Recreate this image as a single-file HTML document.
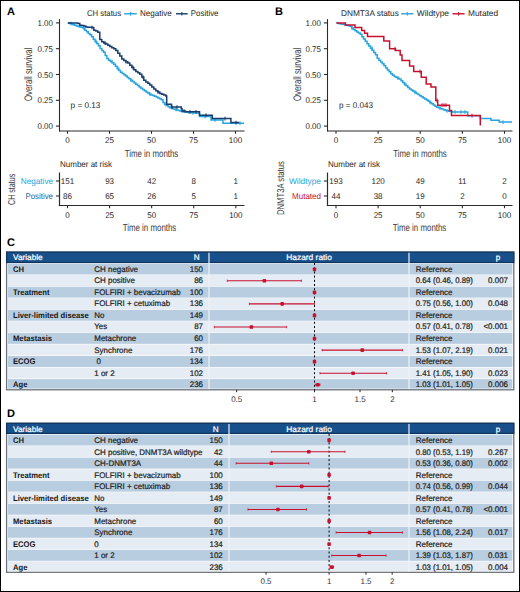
<!DOCTYPE html>
<html><head><meta charset="utf-8"><style>
html,body{margin:0;padding:0;background:#fff;}
body{width:520px;height:592px;overflow:hidden;font-family:"Liberation Sans",sans-serif;}
.wrap{position:relative;width:520px;height:592px;}
svg{position:absolute;left:0;top:0;}
.bd{position:absolute;left:0;top:0;width:520px;height:592px;box-sizing:border-box;border:1.2px solid #000;}
</style></head><body><div class="wrap">
<svg width="520" height="592" viewBox="0 0 520 592" font-family="Liberation Sans, sans-serif" text-rendering="geometricPrecision"><text x="6.90" y="14.80" font-size="11" text-anchor="start" fill="#000" font-weight="bold">A</text>
<text x="86.90" y="15.90" font-size="8.3" text-anchor="start" fill="#262626" stroke="#262626" stroke-width="0.0" textLength="34.2" lengthAdjust="spacingAndGlyphs">CH status</text>
<line x1="124.20" y1="13.80" x2="136.80" y2="13.80" stroke="#27a4de" stroke-width="1.4"/>
<line x1="130.50" y1="12.00" x2="130.50" y2="15.60" stroke="#27a4de" stroke-width="1.0"/>
<text x="140.00" y="15.90" font-size="8.3" text-anchor="start" fill="#262626" stroke="#262626" stroke-width="0.0" textLength="31.7" lengthAdjust="spacingAndGlyphs">Negative</text>
<line x1="176.00" y1="13.80" x2="187.70" y2="13.80" stroke="#173d70" stroke-width="1.4"/>
<line x1="181.85" y1="12.00" x2="181.85" y2="15.60" stroke="#173d70" stroke-width="1.0"/>
<text x="190.80" y="15.90" font-size="8.3" text-anchor="start" fill="#262626" stroke="#262626" stroke-width="0.0" textLength="27.7" lengthAdjust="spacingAndGlyphs">Positive</text>
<line x1="59.50" y1="19.10" x2="59.50" y2="131.50" stroke="#2b2b2b" stroke-width="1.1"/>
<line x1="58.95" y1="131.00" x2="244.50" y2="131.00" stroke="#2b2b2b" stroke-width="1.1"/>
<line x1="55.90" y1="22.90" x2="59.50" y2="22.90" stroke="#2b2b2b" stroke-width="1.1"/>
<text x="52.90" y="25.90" font-size="8.3" text-anchor="end" fill="#262626" stroke="#262626" stroke-width="0.0" textLength="15.4" lengthAdjust="spacingAndGlyphs">1.00</text>
<line x1="55.90" y1="48.70" x2="59.50" y2="48.70" stroke="#2b2b2b" stroke-width="1.1"/>
<text x="52.90" y="51.70" font-size="8.3" text-anchor="end" fill="#262626" stroke="#262626" stroke-width="0.0" textLength="15.4" lengthAdjust="spacingAndGlyphs">0.75</text>
<line x1="55.90" y1="74.50" x2="59.50" y2="74.50" stroke="#2b2b2b" stroke-width="1.1"/>
<text x="52.90" y="77.50" font-size="8.3" text-anchor="end" fill="#262626" stroke="#262626" stroke-width="0.0" textLength="15.4" lengthAdjust="spacingAndGlyphs">0.50</text>
<line x1="55.90" y1="100.30" x2="59.50" y2="100.30" stroke="#2b2b2b" stroke-width="1.1"/>
<text x="52.90" y="103.30" font-size="8.3" text-anchor="end" fill="#262626" stroke="#262626" stroke-width="0.0" textLength="15.4" lengthAdjust="spacingAndGlyphs">0.25</text>
<line x1="55.90" y1="126.10" x2="59.50" y2="126.10" stroke="#2b2b2b" stroke-width="1.1"/>
<text x="52.90" y="129.10" font-size="8.3" text-anchor="end" fill="#262626" stroke="#262626" stroke-width="0.0" textLength="15.4" lengthAdjust="spacingAndGlyphs">0.00</text>
<line x1="67.50" y1="131.00" x2="67.50" y2="133.80" stroke="#2b2b2b" stroke-width="1.1"/>
<text x="67.50" y="143.10" font-size="8.3" text-anchor="middle" fill="#262626" stroke="#262626" stroke-width="0.0" textLength="4.45" lengthAdjust="spacingAndGlyphs">0</text>
<line x1="109.50" y1="131.00" x2="109.50" y2="133.80" stroke="#2b2b2b" stroke-width="1.1"/>
<text x="109.50" y="143.10" font-size="8.3" text-anchor="middle" fill="#262626" stroke="#262626" stroke-width="0.0" textLength="8.9" lengthAdjust="spacingAndGlyphs">25</text>
<line x1="151.50" y1="131.00" x2="151.50" y2="133.80" stroke="#2b2b2b" stroke-width="1.1"/>
<text x="151.50" y="143.10" font-size="8.3" text-anchor="middle" fill="#262626" stroke="#262626" stroke-width="0.0" textLength="8.9" lengthAdjust="spacingAndGlyphs">50</text>
<line x1="193.50" y1="131.00" x2="193.50" y2="133.80" stroke="#2b2b2b" stroke-width="1.1"/>
<text x="193.50" y="143.10" font-size="8.3" text-anchor="middle" fill="#262626" stroke="#262626" stroke-width="0.0" textLength="8.9" lengthAdjust="spacingAndGlyphs">75</text>
<line x1="235.50" y1="131.00" x2="235.50" y2="133.80" stroke="#2b2b2b" stroke-width="1.1"/>
<text x="235.50" y="143.10" font-size="8.3" text-anchor="middle" fill="#262626" stroke="#262626" stroke-width="0.0" textLength="13.35" lengthAdjust="spacingAndGlyphs">100</text>
<text x="0" y="0" font-size="10.9" fill="#3a3a3a" text-anchor="middle" textLength="53.4" lengthAdjust="spacingAndGlyphs" transform="translate(32.40,74.30) rotate(-90)">Overall survival</text>
<text x="151.50" y="156.80" font-size="10.3" text-anchor="middle" fill="#3a3a3a" textLength="53.6" lengthAdjust="spacingAndGlyphs" stroke="none">Time in months</text>
<text x="70.60" y="108.20" font-size="8.3" text-anchor="start" fill="#262626" stroke="#262626" stroke-width="0.0" textLength="29.8" lengthAdjust="spacingAndGlyphs">p = 0.13</text>
<polyline points="67.80,23.00 69.50,23.00 69.50,23.55 71.20,23.55 71.20,24.11 72.90,24.11 72.90,24.71 74.60,24.71 74.60,25.34 76.30,25.34 76.30,25.98 78.00,25.98 78.00,26.61 79.70,26.61 79.70,26.99 81.40,26.99 81.40,27.26 83.10,27.26 83.10,28.36 84.80,28.36 84.80,30.26 86.50,30.26 86.50,31.83 88.20,31.83 88.20,33.39 89.90,33.39 89.90,34.85 91.60,34.85 91.60,36.71 93.30,36.71 93.30,39.29 95.00,39.29 95.00,41.53 96.70,41.53 96.70,43.59 98.40,43.59 98.40,45.86 100.10,45.86 100.10,48.44 101.80,48.44 101.80,50.48 103.50,50.48 103.50,52.30 105.20,52.30 105.20,55.39 106.90,55.39 106.90,58.47 108.60,58.47 108.60,60.19 110.30,60.19 110.30,61.47 112.00,61.47 112.00,62.76 113.70,62.76 113.70,64.15 115.40,64.15 115.40,66.30 117.10,66.30 117.10,68.44 118.80,68.44 118.80,70.59 120.50,70.59 120.50,72.27 122.20,72.27 122.20,73.53 123.90,73.53 123.90,74.79 125.60,74.79 125.60,76.05 127.30,76.05 127.30,77.41 129.00,77.41 129.00,78.78 130.70,78.78 130.70,80.15 132.40,80.15 132.40,81.51 134.10,81.51 134.10,82.88 135.80,82.88 135.80,84.22 137.50,84.22 137.50,85.57 139.20,85.57 139.20,86.92 140.90,86.92 140.90,88.26 142.60,88.26 142.60,89.49 144.30,89.49 144.30,90.70 146.00,90.70 146.00,91.91 147.70,91.91 147.70,93.12 149.40,93.12 149.40,94.16 151.10,94.16 151.10,94.89 152.80,94.89 152.80,95.61 154.50,95.61 154.50,96.34 156.20,96.34 156.20,97.07 157.90,97.07 157.90,97.91 159.60,97.91 159.60,98.78 161.30,98.78 161.30,99.76 163.00,99.76 163.00,102.51 164.70,102.51 164.70,104.42 166.40,104.42 166.40,105.59 168.10,105.59 168.10,106.77 169.80,106.77 169.80,107.86 171.50,107.86 171.50,108.42 173.20,108.42 173.20,108.97 174.90,108.97 174.90,109.52 176.60,109.52 176.60,110.07 178.30,110.07 178.30,110.51 180.00,110.51 180.00,110.88 181.70,110.88 181.70,111.25 183.40,111.25 183.40,111.61 185.10,111.61 185.10,111.98 186.80,111.98 186.80,112.34 188.50,112.34 188.50,112.63 190.20,112.63 190.20,112.71 191.90,112.71 191.90,112.80 193.60,112.80 193.60,112.89 195.30,112.89 195.30,112.98 197.00,112.98 197.00,113.07 198.70,113.07 198.70,113.16 199.50,113.16 199.50,113.20 199.50,116.50 211.00,116.50 211.00,119.90 223.00,119.90 223.00,123.30 244.00,123.30" fill="none" stroke="#27a4de" stroke-width="1.5" stroke-linejoin="miter"/>
<line x1="71.00" y1="21.65" x2="71.00" y2="25.45" stroke="#27a4de" stroke-width="1.0"/>
<line x1="84.00" y1="26.46" x2="84.00" y2="30.26" stroke="#27a4de" stroke-width="1.0"/>
<line x1="96.00" y1="39.63" x2="96.00" y2="43.43" stroke="#27a4de" stroke-width="1.0"/>
<line x1="112.00" y1="59.57" x2="112.00" y2="63.37" stroke="#27a4de" stroke-width="1.0"/>
<line x1="118.00" y1="66.54" x2="118.00" y2="70.34" stroke="#27a4de" stroke-width="1.0"/>
<line x1="131.00" y1="78.25" x2="131.00" y2="82.05" stroke="#27a4de" stroke-width="1.0"/>
<line x1="150.00" y1="92.26" x2="150.00" y2="96.06" stroke="#27a4de" stroke-width="1.0"/>
<line x1="166.00" y1="102.52" x2="166.00" y2="106.32" stroke="#27a4de" stroke-width="1.0"/>
<line x1="176.00" y1="107.62" x2="176.00" y2="111.42" stroke="#27a4de" stroke-width="1.0"/>
<line x1="182.00" y1="109.35" x2="182.00" y2="113.15" stroke="#27a4de" stroke-width="1.0"/>
<line x1="193.00" y1="110.90" x2="193.00" y2="114.70" stroke="#27a4de" stroke-width="1.0"/>
<line x1="205.00" y1="114.60" x2="205.00" y2="118.40" stroke="#27a4de" stroke-width="1.0"/>
<line x1="215.00" y1="118.00" x2="215.00" y2="121.80" stroke="#27a4de" stroke-width="1.0"/>
<line x1="240.00" y1="121.40" x2="240.00" y2="125.20" stroke="#27a4de" stroke-width="1.0"/>
<polyline points="67.80,23.00 69.80,23.00 69.80,23.00 71.80,23.00 71.80,23.00 73.80,23.00 73.80,23.00 75.80,23.00 75.80,23.00 77.80,23.00 77.80,23.46 79.80,23.46 79.80,25.36 81.80,25.36 81.80,25.50 83.80,25.50 83.80,25.97 85.80,25.97 85.80,27.05 87.80,27.05 87.80,27.20 89.80,27.20 89.80,27.36 91.80,27.36 91.80,27.51 93.80,27.51 93.80,30.21 95.80,30.21 95.80,31.05 97.80,31.05 97.80,32.23 99.80,32.23 99.80,39.50 101.80,39.50 101.80,41.83 103.80,41.83 103.80,43.10 105.80,43.10 105.80,44.10 107.80,44.10 107.80,45.22 109.80,45.22 109.80,46.43 111.80,46.43 111.80,47.66 113.80,47.66 113.80,48.75 115.80,48.75 115.80,50.44 117.80,50.44 117.80,53.18 119.80,53.18 119.80,56.11 121.80,56.11 121.80,59.05 123.80,59.05 123.80,60.46 125.80,60.46 125.80,61.78 127.80,61.78 127.80,63.10 129.80,63.10 129.80,65.22 131.80,65.22 131.80,67.49 133.80,67.49 133.80,69.75 135.80,69.75 135.80,71.39 137.80,71.39 137.80,72.87 139.80,72.87 139.80,74.35 141.80,74.35 141.80,77.08 143.80,77.08 143.80,80.35 145.80,80.35 145.80,82.04 147.80,82.04 147.80,83.35 149.80,83.35 149.80,85.00 151.80,85.00 151.80,87.00 153.80,87.00 153.80,89.00 155.80,89.00 155.80,90.74 157.80,90.74 157.80,92.09 159.80,92.09 159.80,93.38 161.80,93.38 161.80,94.23 163.80,94.23 163.80,95.07 165.80,95.07 165.80,95.92 166.70,95.92 166.70,96.30 166.70,104.20 171.50,104.20 171.50,107.10 181.20,107.10 181.20,108.50 182.00,108.50 182.00,111.00 185.40,111.00 185.40,111.80 199.50,111.80 199.50,115.20 212.30,115.20 212.30,118.60 230.90,118.60 230.90,122.60 239.20,122.60" fill="none" stroke="#173d70" stroke-width="1.5" stroke-linejoin="miter"/>
<line x1="92.00" y1="25.61" x2="92.00" y2="29.41" stroke="#173d70" stroke-width="1.0"/>
<line x1="105.00" y1="41.20" x2="105.00" y2="45.00" stroke="#173d70" stroke-width="1.0"/>
<line x1="126.00" y1="59.88" x2="126.00" y2="63.68" stroke="#173d70" stroke-width="1.0"/>
<line x1="133.00" y1="65.59" x2="133.00" y2="69.39" stroke="#173d70" stroke-width="1.0"/>
<line x1="143.00" y1="75.18" x2="143.00" y2="78.98" stroke="#173d70" stroke-width="1.0"/>
<line x1="158.00" y1="90.19" x2="158.00" y2="93.99" stroke="#173d70" stroke-width="1.0"/>
<line x1="172.00" y1="105.20" x2="172.00" y2="109.00" stroke="#173d70" stroke-width="1.0"/>
<line x1="177.00" y1="105.20" x2="177.00" y2="109.00" stroke="#173d70" stroke-width="1.0"/>
<line x1="184.00" y1="109.10" x2="184.00" y2="112.90" stroke="#173d70" stroke-width="1.0"/>
<line x1="190.00" y1="109.90" x2="190.00" y2="113.70" stroke="#173d70" stroke-width="1.0"/>
<line x1="196.00" y1="109.90" x2="196.00" y2="113.70" stroke="#173d70" stroke-width="1.0"/>
<line x1="206.00" y1="113.30" x2="206.00" y2="117.10" stroke="#173d70" stroke-width="1.0"/>
<line x1="225.00" y1="116.70" x2="225.00" y2="120.50" stroke="#173d70" stroke-width="1.0"/>
<line x1="236.00" y1="120.70" x2="236.00" y2="124.50" stroke="#173d70" stroke-width="1.0"/>
<text x="275.00" y="14.80" font-size="11" text-anchor="start" fill="#000" font-weight="bold">B</text>
<text x="341.00" y="15.90" font-size="8.3" text-anchor="start" fill="#262626" stroke="#262626" stroke-width="0.0" textLength="57.8" lengthAdjust="spacingAndGlyphs">DNMT3A status</text>
<line x1="401.20" y1="13.80" x2="413.40" y2="13.80" stroke="#27a4de" stroke-width="1.4"/>
<line x1="407.30" y1="12.00" x2="407.30" y2="15.60" stroke="#27a4de" stroke-width="1.0"/>
<text x="416.80" y="15.90" font-size="8.3" text-anchor="start" fill="#262626" stroke="#262626" stroke-width="0.0" textLength="32.2" lengthAdjust="spacingAndGlyphs">Wildtype</text>
<line x1="452.50" y1="13.80" x2="464.60" y2="13.80" stroke="#c8102e" stroke-width="1.4"/>
<line x1="458.55" y1="12.00" x2="458.55" y2="15.60" stroke="#c8102e" stroke-width="1.0"/>
<text x="468.00" y="15.90" font-size="8.3" text-anchor="start" fill="#262626" stroke="#262626" stroke-width="0.0" textLength="30.1" lengthAdjust="spacingAndGlyphs">Mutated</text>
<line x1="327.50" y1="19.10" x2="327.50" y2="131.50" stroke="#2b2b2b" stroke-width="1.1"/>
<line x1="326.95" y1="131.00" x2="512.50" y2="131.00" stroke="#2b2b2b" stroke-width="1.1"/>
<line x1="323.90" y1="22.90" x2="327.50" y2="22.90" stroke="#2b2b2b" stroke-width="1.1"/>
<text x="320.90" y="25.90" font-size="8.3" text-anchor="end" fill="#262626" stroke="#262626" stroke-width="0.0" textLength="15.4" lengthAdjust="spacingAndGlyphs">1.00</text>
<line x1="323.90" y1="48.70" x2="327.50" y2="48.70" stroke="#2b2b2b" stroke-width="1.1"/>
<text x="320.90" y="51.70" font-size="8.3" text-anchor="end" fill="#262626" stroke="#262626" stroke-width="0.0" textLength="15.4" lengthAdjust="spacingAndGlyphs">0.75</text>
<line x1="323.90" y1="74.50" x2="327.50" y2="74.50" stroke="#2b2b2b" stroke-width="1.1"/>
<text x="320.90" y="77.50" font-size="8.3" text-anchor="end" fill="#262626" stroke="#262626" stroke-width="0.0" textLength="15.4" lengthAdjust="spacingAndGlyphs">0.50</text>
<line x1="323.90" y1="100.30" x2="327.50" y2="100.30" stroke="#2b2b2b" stroke-width="1.1"/>
<text x="320.90" y="103.30" font-size="8.3" text-anchor="end" fill="#262626" stroke="#262626" stroke-width="0.0" textLength="15.4" lengthAdjust="spacingAndGlyphs">0.25</text>
<line x1="323.90" y1="126.10" x2="327.50" y2="126.10" stroke="#2b2b2b" stroke-width="1.1"/>
<text x="320.90" y="129.10" font-size="8.3" text-anchor="end" fill="#262626" stroke="#262626" stroke-width="0.0" textLength="15.4" lengthAdjust="spacingAndGlyphs">0.00</text>
<line x1="336.00" y1="131.00" x2="336.00" y2="133.80" stroke="#2b2b2b" stroke-width="1.1"/>
<text x="336.00" y="143.10" font-size="8.3" text-anchor="middle" fill="#262626" stroke="#262626" stroke-width="0.0" textLength="4.45" lengthAdjust="spacingAndGlyphs">0</text>
<line x1="378.12" y1="131.00" x2="378.12" y2="133.80" stroke="#2b2b2b" stroke-width="1.1"/>
<text x="378.12" y="143.10" font-size="8.3" text-anchor="middle" fill="#262626" stroke="#262626" stroke-width="0.0" textLength="8.9" lengthAdjust="spacingAndGlyphs">25</text>
<line x1="420.25" y1="131.00" x2="420.25" y2="133.80" stroke="#2b2b2b" stroke-width="1.1"/>
<text x="420.25" y="143.10" font-size="8.3" text-anchor="middle" fill="#262626" stroke="#262626" stroke-width="0.0" textLength="8.9" lengthAdjust="spacingAndGlyphs">50</text>
<line x1="462.38" y1="131.00" x2="462.38" y2="133.80" stroke="#2b2b2b" stroke-width="1.1"/>
<text x="462.38" y="143.10" font-size="8.3" text-anchor="middle" fill="#262626" stroke="#262626" stroke-width="0.0" textLength="8.9" lengthAdjust="spacingAndGlyphs">75</text>
<line x1="504.50" y1="131.00" x2="504.50" y2="133.80" stroke="#2b2b2b" stroke-width="1.1"/>
<text x="504.50" y="143.10" font-size="8.3" text-anchor="middle" fill="#262626" stroke="#262626" stroke-width="0.0" textLength="13.35" lengthAdjust="spacingAndGlyphs">100</text>
<text x="0" y="0" font-size="10.9" fill="#3a3a3a" text-anchor="middle" textLength="53.4" lengthAdjust="spacingAndGlyphs" transform="translate(301.20,74.30) rotate(-90)">Overall survival</text>
<text x="420.00" y="156.80" font-size="10.3" text-anchor="middle" fill="#3a3a3a" textLength="53.6" lengthAdjust="spacingAndGlyphs" stroke="none">Time in months</text>
<text x="339.00" y="108.20" font-size="8.3" text-anchor="start" fill="#262626" stroke="#262626" stroke-width="0.0" textLength="33.9" lengthAdjust="spacingAndGlyphs">p = 0.043</text>
<polyline points="336.40,23.00 338.10,23.00 338.10,23.39 339.80,23.39 339.80,23.77 341.50,23.77 341.50,24.16 343.20,24.16 343.20,24.55 344.90,24.55 344.90,24.93 346.60,24.93 346.60,25.30 348.30,25.30 348.30,25.67 350.00,25.67 350.00,26.22 351.70,26.22 351.70,28.07 353.40,28.07 353.40,29.45 355.10,29.45 355.10,30.70 356.80,30.70 356.80,31.90 358.50,31.90 358.50,33.05 360.20,33.05 360.20,34.20 361.90,34.20 361.90,36.63 363.60,36.63 363.60,39.06 365.30,39.06 365.30,41.36 367.00,41.36 367.00,43.66 368.70,43.66 368.70,45.90 370.40,45.90 370.40,48.14 372.10,48.14 372.10,50.29 373.80,50.29 373.80,52.43 375.50,52.43 375.50,54.83 377.20,54.83 377.20,58.37 378.90,58.37 378.90,60.34 380.60,60.34 380.60,61.97 382.30,61.97 382.30,63.65 384.00,63.65 384.00,65.80 385.70,65.80 385.70,67.94 387.40,67.94 387.40,69.97 389.10,69.97 389.10,71.86 390.80,71.86 390.80,73.74 392.50,73.74 392.50,75.18 394.20,75.18 394.20,76.38 395.90,76.38 395.90,77.35 397.60,77.35 397.60,78.20 399.30,78.20 399.30,79.10 401.00,79.10 401.00,80.78 402.70,80.78 402.70,82.46 404.40,82.46 404.40,84.15 406.10,84.15 406.10,85.83 407.80,85.83 407.80,87.51 409.50,87.51 409.50,88.96 411.20,88.96 411.20,90.09 412.90,90.09 412.90,91.22 414.60,91.22 414.60,92.35 416.30,92.35 416.30,93.48 418.00,93.48 418.00,94.61 419.70,94.61 419.70,95.74 421.40,95.74 421.40,96.83 423.10,96.83 423.10,97.91 424.80,97.91 424.80,98.98 426.50,98.98 426.50,100.05 428.20,100.05 428.20,101.15 429.90,101.15 429.90,102.41 431.60,102.41 431.60,103.68 433.30,103.68 433.30,104.94 435.00,104.94 435.00,106.21 436.70,106.21 436.70,107.15 438.40,107.15 438.40,107.80 440.10,107.80 440.10,108.46 441.80,108.46 441.80,109.11 443.50,109.11 443.50,109.77 445.20,109.77 445.20,110.42 446.90,110.42 446.90,110.84 448.60,110.84 448.60,111.23 450.30,111.23 450.30,111.61 452.00,111.61 452.00,112.00 467.70,112.00 467.70,115.80 480.30,115.80 480.30,118.50 491.00,118.50 491.00,120.20 499.20,120.20 499.20,122.10 512.00,122.10" fill="none" stroke="#27a4de" stroke-width="1.5" stroke-linejoin="miter"/>
<line x1="352.00" y1="26.17" x2="352.00" y2="29.97" stroke="#27a4de" stroke-width="1.0"/>
<line x1="372.00" y1="46.24" x2="372.00" y2="50.04" stroke="#27a4de" stroke-width="1.0"/>
<line x1="398.00" y1="76.30" x2="398.00" y2="80.10" stroke="#27a4de" stroke-width="1.0"/>
<line x1="405.00" y1="82.25" x2="405.00" y2="86.05" stroke="#27a4de" stroke-width="1.0"/>
<line x1="415.00" y1="90.45" x2="415.00" y2="94.25" stroke="#27a4de" stroke-width="1.0"/>
<line x1="430.00" y1="100.51" x2="430.00" y2="104.31" stroke="#27a4de" stroke-width="1.0"/>
<line x1="440.00" y1="105.90" x2="440.00" y2="109.70" stroke="#27a4de" stroke-width="1.0"/>
<line x1="447.00" y1="108.94" x2="447.00" y2="112.74" stroke="#27a4de" stroke-width="1.0"/>
<line x1="455.00" y1="110.10" x2="455.00" y2="113.90" stroke="#27a4de" stroke-width="1.0"/>
<line x1="461.00" y1="110.10" x2="461.00" y2="113.90" stroke="#27a4de" stroke-width="1.0"/>
<line x1="465.00" y1="110.10" x2="465.00" y2="113.90" stroke="#27a4de" stroke-width="1.0"/>
<line x1="503.00" y1="120.20" x2="503.00" y2="124.00" stroke="#27a4de" stroke-width="1.0"/>
<polyline points="336.40,23.00 345.40,23.00 345.40,25.00 355.00,25.00 355.00,27.50 361.70,27.50 361.70,30.40 364.60,30.40 364.60,33.30 367.50,33.30 367.50,36.50 383.80,36.50 383.80,41.00 389.60,41.00 389.60,48.70 395.40,48.70 395.40,50.60 400.20,50.60 400.20,55.00 402.00,55.00 402.00,60.50 409.60,60.50 409.60,66.00 413.70,66.00 413.70,71.60 421.30,71.60 421.30,77.30 426.20,77.30 426.20,84.00 431.00,84.00 431.00,87.00 435.80,87.00 435.80,100.40 437.70,100.40 437.70,105.20 449.50,105.20 449.50,110.50 451.50,110.50 451.50,115.60 480.30,115.60 480.30,125.60" fill="none" stroke="#c8102e" stroke-width="1.5" stroke-linejoin="miter"/>
<line x1="395.00" y1="46.80" x2="395.00" y2="50.60" stroke="#c8102e" stroke-width="1.0"/>
<line x1="420.00" y1="69.70" x2="420.00" y2="73.50" stroke="#c8102e" stroke-width="1.0"/>
<line x1="437.00" y1="98.50" x2="437.00" y2="102.30" stroke="#c8102e" stroke-width="1.0"/>
<line x1="442.00" y1="103.30" x2="442.00" y2="107.10" stroke="#c8102e" stroke-width="1.0"/>
<line x1="444.00" y1="103.30" x2="444.00" y2="107.10" stroke="#c8102e" stroke-width="1.0"/>
<line x1="446.00" y1="103.30" x2="446.00" y2="107.10" stroke="#c8102e" stroke-width="1.0"/>
<line x1="472.00" y1="113.70" x2="472.00" y2="117.50" stroke="#c8102e" stroke-width="1.0"/>
<text x="60.00" y="167.20" font-size="8.3" text-anchor="start" fill="#262626" stroke="#262626" stroke-width="0.0" textLength="52" lengthAdjust="spacingAndGlyphs">Number at risk</text>
<line x1="59.50" y1="172.50" x2="59.50" y2="206.10" stroke="#2b2b2b" stroke-width="1.2"/>
<line x1="58.90" y1="205.50" x2="244.50" y2="205.50" stroke="#2b2b2b" stroke-width="1.2"/>
<line x1="55.90" y1="181.00" x2="59.50" y2="181.00" stroke="#2b2b2b" stroke-width="1.1"/>
<text x="53.00" y="184.00" font-size="8.3" text-anchor="end" fill="#27a4de" stroke="#27a4de" stroke-width="0.0" textLength="32.2" lengthAdjust="spacingAndGlyphs">Negative</text>
<line x1="55.90" y1="196.00" x2="59.50" y2="196.00" stroke="#2b2b2b" stroke-width="1.1"/>
<text x="53.00" y="199.00" font-size="8.3" text-anchor="end" fill="#2a5e9c" stroke="#2a5e9c" stroke-width="0.0" textLength="27.5" lengthAdjust="spacingAndGlyphs">Positive</text>
<line x1="67.50" y1="205.50" x2="67.50" y2="208.20" stroke="#2b2b2b" stroke-width="1.1"/>
<text x="67.50" y="217.60" font-size="8.3" text-anchor="middle" fill="#262626" stroke="#262626" stroke-width="0.0" textLength="4.45" lengthAdjust="spacingAndGlyphs">0</text>
<text x="67.50" y="184.00" font-size="8.3" text-anchor="middle" fill="#262626" stroke="#262626" stroke-width="0.0" textLength="13.35" lengthAdjust="spacingAndGlyphs">151</text>
<text x="67.50" y="199.20" font-size="8.3" text-anchor="middle" fill="#262626" stroke="#262626" stroke-width="0.0" textLength="8.9" lengthAdjust="spacingAndGlyphs">86</text>
<line x1="109.58" y1="205.50" x2="109.58" y2="208.20" stroke="#2b2b2b" stroke-width="1.1"/>
<text x="109.58" y="217.60" font-size="8.3" text-anchor="middle" fill="#262626" stroke="#262626" stroke-width="0.0" textLength="8.9" lengthAdjust="spacingAndGlyphs">25</text>
<text x="109.58" y="184.00" font-size="8.3" text-anchor="middle" fill="#262626" stroke="#262626" stroke-width="0.0" textLength="8.9" lengthAdjust="spacingAndGlyphs">93</text>
<text x="109.58" y="199.20" font-size="8.3" text-anchor="middle" fill="#262626" stroke="#262626" stroke-width="0.0" textLength="8.9" lengthAdjust="spacingAndGlyphs">65</text>
<line x1="151.65" y1="205.50" x2="151.65" y2="208.20" stroke="#2b2b2b" stroke-width="1.1"/>
<text x="151.65" y="217.60" font-size="8.3" text-anchor="middle" fill="#262626" stroke="#262626" stroke-width="0.0" textLength="8.9" lengthAdjust="spacingAndGlyphs">50</text>
<text x="151.65" y="184.00" font-size="8.3" text-anchor="middle" fill="#262626" stroke="#262626" stroke-width="0.0" textLength="8.9" lengthAdjust="spacingAndGlyphs">42</text>
<text x="151.65" y="199.20" font-size="8.3" text-anchor="middle" fill="#262626" stroke="#262626" stroke-width="0.0" textLength="8.9" lengthAdjust="spacingAndGlyphs">26</text>
<line x1="193.73" y1="205.50" x2="193.73" y2="208.20" stroke="#2b2b2b" stroke-width="1.1"/>
<text x="193.73" y="217.60" font-size="8.3" text-anchor="middle" fill="#262626" stroke="#262626" stroke-width="0.0" textLength="8.9" lengthAdjust="spacingAndGlyphs">75</text>
<text x="193.73" y="184.00" font-size="8.3" text-anchor="middle" fill="#262626" stroke="#262626" stroke-width="0.0" textLength="4.45" lengthAdjust="spacingAndGlyphs">8</text>
<text x="193.73" y="199.20" font-size="8.3" text-anchor="middle" fill="#262626" stroke="#262626" stroke-width="0.0" textLength="4.45" lengthAdjust="spacingAndGlyphs">5</text>
<line x1="235.80" y1="205.50" x2="235.80" y2="208.20" stroke="#2b2b2b" stroke-width="1.1"/>
<text x="235.80" y="217.60" font-size="8.3" text-anchor="middle" fill="#262626" stroke="#262626" stroke-width="0.0" textLength="13.35" lengthAdjust="spacingAndGlyphs">100</text>
<text x="235.80" y="184.00" font-size="8.3" text-anchor="middle" fill="#262626" stroke="#262626" stroke-width="0.0" textLength="4.45" lengthAdjust="spacingAndGlyphs">1</text>
<text x="235.80" y="199.20" font-size="8.3" text-anchor="middle" fill="#262626" stroke="#262626" stroke-width="0.0" textLength="4.45" lengthAdjust="spacingAndGlyphs">1</text>
<text x="149.50" y="230.80" font-size="10.3" text-anchor="middle" fill="#3a3a3a" textLength="53.6" lengthAdjust="spacingAndGlyphs" stroke="none">Time in months</text>
<text x="0" y="0" font-size="10" fill="#3a3a3a" text-anchor="middle" textLength="31.2" lengthAdjust="spacingAndGlyphs" transform="translate(14.50,189.40) rotate(-90)">CH status</text>
<text x="328.00" y="167.20" font-size="8.3" text-anchor="start" fill="#262626" stroke="#262626" stroke-width="0.0" textLength="52" lengthAdjust="spacingAndGlyphs">Number at risk</text>
<line x1="327.50" y1="172.50" x2="327.50" y2="206.10" stroke="#2b2b2b" stroke-width="1.2"/>
<line x1="326.90" y1="205.50" x2="512.50" y2="205.50" stroke="#2b2b2b" stroke-width="1.2"/>
<line x1="323.90" y1="181.00" x2="327.50" y2="181.00" stroke="#2b2b2b" stroke-width="1.1"/>
<text x="321.00" y="184.00" font-size="8.3" text-anchor="end" fill="#27a4de" stroke="#27a4de" stroke-width="0.0" textLength="32" lengthAdjust="spacingAndGlyphs">Wildtype</text>
<line x1="323.90" y1="196.00" x2="327.50" y2="196.00" stroke="#2b2b2b" stroke-width="1.1"/>
<text x="321.00" y="199.00" font-size="8.3" text-anchor="end" fill="#c8102e" stroke="#c8102e" stroke-width="0.0" textLength="29" lengthAdjust="spacingAndGlyphs">Mutated</text>
<line x1="336.00" y1="205.50" x2="336.00" y2="208.20" stroke="#2b2b2b" stroke-width="1.1"/>
<text x="336.00" y="217.60" font-size="8.3" text-anchor="middle" fill="#262626" stroke="#262626" stroke-width="0.0" textLength="4.45" lengthAdjust="spacingAndGlyphs">0</text>
<text x="336.00" y="184.00" font-size="8.3" text-anchor="middle" fill="#262626" stroke="#262626" stroke-width="0.0" textLength="13.35" lengthAdjust="spacingAndGlyphs">193</text>
<text x="336.00" y="199.20" font-size="8.3" text-anchor="middle" fill="#262626" stroke="#262626" stroke-width="0.0" textLength="8.9" lengthAdjust="spacingAndGlyphs">44</text>
<line x1="378.12" y1="205.50" x2="378.12" y2="208.20" stroke="#2b2b2b" stroke-width="1.1"/>
<text x="378.12" y="217.60" font-size="8.3" text-anchor="middle" fill="#262626" stroke="#262626" stroke-width="0.0" textLength="8.9" lengthAdjust="spacingAndGlyphs">25</text>
<text x="378.12" y="184.00" font-size="8.3" text-anchor="middle" fill="#262626" stroke="#262626" stroke-width="0.0" textLength="13.35" lengthAdjust="spacingAndGlyphs">120</text>
<text x="378.12" y="199.20" font-size="8.3" text-anchor="middle" fill="#262626" stroke="#262626" stroke-width="0.0" textLength="8.9" lengthAdjust="spacingAndGlyphs">38</text>
<line x1="420.25" y1="205.50" x2="420.25" y2="208.20" stroke="#2b2b2b" stroke-width="1.1"/>
<text x="420.25" y="217.60" font-size="8.3" text-anchor="middle" fill="#262626" stroke="#262626" stroke-width="0.0" textLength="8.9" lengthAdjust="spacingAndGlyphs">50</text>
<text x="420.25" y="184.00" font-size="8.3" text-anchor="middle" fill="#262626" stroke="#262626" stroke-width="0.0" textLength="8.9" lengthAdjust="spacingAndGlyphs">49</text>
<text x="420.25" y="199.20" font-size="8.3" text-anchor="middle" fill="#262626" stroke="#262626" stroke-width="0.0" textLength="8.9" lengthAdjust="spacingAndGlyphs">19</text>
<line x1="462.38" y1="205.50" x2="462.38" y2="208.20" stroke="#2b2b2b" stroke-width="1.1"/>
<text x="462.38" y="217.60" font-size="8.3" text-anchor="middle" fill="#262626" stroke="#262626" stroke-width="0.0" textLength="8.9" lengthAdjust="spacingAndGlyphs">75</text>
<text x="462.38" y="184.00" font-size="8.3" text-anchor="middle" fill="#262626" stroke="#262626" stroke-width="0.0" textLength="8.3" lengthAdjust="spacingAndGlyphs">11</text>
<text x="462.38" y="199.20" font-size="8.3" text-anchor="middle" fill="#262626" stroke="#262626" stroke-width="0.0" textLength="4.45" lengthAdjust="spacingAndGlyphs">2</text>
<line x1="504.50" y1="205.50" x2="504.50" y2="208.20" stroke="#2b2b2b" stroke-width="1.1"/>
<text x="504.50" y="217.60" font-size="8.3" text-anchor="middle" fill="#262626" stroke="#262626" stroke-width="0.0" textLength="13.35" lengthAdjust="spacingAndGlyphs">100</text>
<text x="504.50" y="184.00" font-size="8.3" text-anchor="middle" fill="#262626" stroke="#262626" stroke-width="0.0" textLength="4.45" lengthAdjust="spacingAndGlyphs">2</text>
<text x="504.50" y="199.20" font-size="8.3" text-anchor="middle" fill="#262626" stroke="#262626" stroke-width="0.0" textLength="4.45" lengthAdjust="spacingAndGlyphs">0</text>
<text x="419.50" y="230.80" font-size="10.3" text-anchor="middle" fill="#3a3a3a" textLength="53.6" lengthAdjust="spacingAndGlyphs" stroke="none">Time in months</text>
<text x="0" y="0" font-size="10" fill="#3a3a3a" text-anchor="middle" textLength="53.8" lengthAdjust="spacingAndGlyphs" transform="translate(284.20,188.10) rotate(-90)">DNMT3A status</text>
<text x="6.90" y="246.20" font-size="11" text-anchor="start" fill="#000" font-weight="bold">C</text>
<rect x="6.60" y="252.10" width="507.20" height="137.70" fill="#fff" stroke="#6d7178" stroke-width="1.3"/>
<rect x="6.60" y="252.10" width="507.20" height="10.40" fill="#17508a" stroke="#0f355e" stroke-width="1.2"/>
<rect x="8.00" y="263.60" width="504.40" height="10.95" fill="#b9cde0"/>
<rect x="8.00" y="275.15" width="504.40" height="10.95" fill="#e5ecf4"/>
<rect x="8.00" y="286.70" width="504.40" height="10.95" fill="#b9cde0"/>
<rect x="8.00" y="298.25" width="504.40" height="10.95" fill="#e5ecf4"/>
<rect x="8.00" y="309.80" width="504.40" height="10.95" fill="#b9cde0"/>
<rect x="8.00" y="321.35" width="504.40" height="10.95" fill="#e5ecf4"/>
<rect x="8.00" y="332.90" width="504.40" height="10.95" fill="#b9cde0"/>
<rect x="8.00" y="344.45" width="504.40" height="10.95" fill="#e5ecf4"/>
<rect x="8.00" y="356.00" width="504.40" height="10.95" fill="#b9cde0"/>
<rect x="8.00" y="367.55" width="504.40" height="10.95" fill="#e5ecf4"/>
<rect x="8.00" y="379.10" width="504.40" height="9.60" fill="#b9cde0"/>
<rect x="208.40" y="252.75" width="1.20" height="136.40" fill="#eef2f7"/>
<rect x="408.40" y="252.75" width="1.20" height="136.40" fill="#eef2f7"/>
<text x="13.00" y="260.40" font-size="8.1" text-anchor="start" fill="#fff" textLength="29.7" lengthAdjust="spacingAndGlyphs" stroke="#fff" stroke-width="0.22">Variable</text>
<text x="196.60" y="260.40" font-size="8.1" text-anchor="middle" fill="#fff" stroke="#fff" stroke-width="0.22">N</text>
<text x="309.10" y="260.40" font-size="8.1" text-anchor="middle" fill="#fff" textLength="45.6" lengthAdjust="spacingAndGlyphs" stroke="#fff" stroke-width="0.22">Hazard ratio</text>
<text x="498.00" y="260.40" font-size="8.1" text-anchor="middle" fill="#fff" stroke="#fff" stroke-width="0.22">p</text>
<line x1="314.50" y1="263.00" x2="314.50" y2="389.80" stroke="#000" stroke-width="1" stroke-dasharray="2,2.2"/>
<text x="13.00" y="271.73" font-size="8.1" text-anchor="start" fill="#161616" font-weight="bold" textLength="11.05" lengthAdjust="spacingAndGlyphs">CH</text>
<text x="94.30" y="271.73" font-size="8.15" text-anchor="start" fill="#1e1e1e" stroke="#1e1e1e" stroke-width="0.22" textLength="43.75" lengthAdjust="spacingAndGlyphs">CH negative</text>
<text x="203.00" y="271.73" font-size="8.15" text-anchor="end" fill="#1e1e1e" stroke="#1e1e1e" stroke-width="0.22" textLength="13.26" lengthAdjust="spacingAndGlyphs">150</text>
<text x="415.80" y="271.73" font-size="8.15" text-anchor="start" fill="#1e1e1e" stroke="#1e1e1e" stroke-width="0.22" textLength="36.68" lengthAdjust="spacingAndGlyphs">Reference</text>
<rect x="312.75" y="267.38" width="3.5" height="3.8" rx="0.9" fill="#c8102e"/>
<text x="94.30" y="283.28" font-size="8.15" text-anchor="start" fill="#1e1e1e" stroke="#1e1e1e" stroke-width="0.22" textLength="40.65" lengthAdjust="spacingAndGlyphs">CH positive</text>
<text x="203.00" y="283.28" font-size="8.15" text-anchor="end" fill="#1e1e1e" stroke="#1e1e1e" stroke-width="0.22" textLength="8.84" lengthAdjust="spacingAndGlyphs">86</text>
<text x="415.80" y="283.28" font-size="8.15" text-anchor="start" fill="#1e1e1e" stroke="#1e1e1e" stroke-width="0.22" textLength="57.09" lengthAdjust="spacingAndGlyphs">0.64 (0.46, 0.89)</text>
<text x="508.00" y="283.28" font-size="8.15" text-anchor="end" fill="#1e1e1e" stroke="#1e1e1e" stroke-width="0.22" textLength="19.89" lengthAdjust="spacingAndGlyphs">0.007</text>
<line x1="227.30" y1="280.82" x2="301.41" y2="280.82" stroke="#c8102e" stroke-width="1.1"/>
<line x1="227.30" y1="279.62" x2="227.30" y2="282.02" stroke="#c8102e" stroke-width="0.8"/>
<line x1="301.41" y1="279.62" x2="301.41" y2="282.02" stroke="#c8102e" stroke-width="0.8"/>
<rect x="262.58" y="279.02" width="3.6" height="3.6" rx="0.9" fill="#c8102e"/>
<text x="13.00" y="294.83" font-size="8.1" text-anchor="start" fill="#161616" font-weight="bold" textLength="36.56" lengthAdjust="spacingAndGlyphs">Treatment</text>
<text x="94.30" y="294.83" font-size="8.15" text-anchor="start" fill="#1e1e1e" stroke="#1e1e1e" stroke-width="0.22" textLength="86.38" lengthAdjust="spacingAndGlyphs">FOLFIRI + bevacizumab</text>
<text x="203.00" y="294.83" font-size="8.15" text-anchor="end" fill="#1e1e1e" stroke="#1e1e1e" stroke-width="0.22" textLength="13.26" lengthAdjust="spacingAndGlyphs">100</text>
<text x="415.80" y="294.83" font-size="8.15" text-anchor="start" fill="#1e1e1e" stroke="#1e1e1e" stroke-width="0.22" textLength="36.68" lengthAdjust="spacingAndGlyphs">Reference</text>
<rect x="312.75" y="290.48" width="3.5" height="3.8" rx="0.9" fill="#c8102e"/>
<text x="94.30" y="306.38" font-size="8.15" text-anchor="start" fill="#1e1e1e" stroke="#1e1e1e" stroke-width="0.22" textLength="75.77" lengthAdjust="spacingAndGlyphs">FOLFIRI + cetuximab</text>
<text x="203.00" y="306.38" font-size="8.15" text-anchor="end" fill="#1e1e1e" stroke="#1e1e1e" stroke-width="0.22" textLength="13.26" lengthAdjust="spacingAndGlyphs">136</text>
<text x="415.80" y="306.38" font-size="8.15" text-anchor="start" fill="#1e1e1e" stroke="#1e1e1e" stroke-width="0.22" textLength="57.09" lengthAdjust="spacingAndGlyphs">0.75 (0.56, 1.00)</text>
<text x="508.00" y="306.38" font-size="8.15" text-anchor="end" fill="#1e1e1e" stroke="#1e1e1e" stroke-width="0.22" textLength="19.89" lengthAdjust="spacingAndGlyphs">0.048</text>
<line x1="249.39" y1="303.92" x2="314.50" y2="303.92" stroke="#c8102e" stroke-width="1.1"/>
<line x1="249.39" y1="302.72" x2="249.39" y2="305.12" stroke="#c8102e" stroke-width="0.8"/>
<line x1="314.50" y1="302.72" x2="314.50" y2="305.12" stroke="#c8102e" stroke-width="0.8"/>
<rect x="280.39" y="302.12" width="3.6" height="3.6" rx="0.9" fill="#c8102e"/>
<text x="13.00" y="317.93" font-size="8.1" text-anchor="start" fill="#161616" font-weight="bold" textLength="75.68" lengthAdjust="spacingAndGlyphs">Liver-limited disease</text>
<text x="94.30" y="317.93" font-size="8.15" text-anchor="start" fill="#1e1e1e" stroke="#1e1e1e" stroke-width="0.22" textLength="10.16" lengthAdjust="spacingAndGlyphs">No</text>
<text x="203.00" y="317.93" font-size="8.15" text-anchor="end" fill="#1e1e1e" stroke="#1e1e1e" stroke-width="0.22" textLength="13.26" lengthAdjust="spacingAndGlyphs">149</text>
<text x="415.80" y="317.93" font-size="8.15" text-anchor="start" fill="#1e1e1e" stroke="#1e1e1e" stroke-width="0.22" textLength="36.68" lengthAdjust="spacingAndGlyphs">Reference</text>
<rect x="312.75" y="313.57" width="3.5" height="3.8" rx="0.9" fill="#c8102e"/>
<text x="94.30" y="329.48" font-size="8.15" text-anchor="start" fill="#1e1e1e" stroke="#1e1e1e" stroke-width="0.22" textLength="12.97" lengthAdjust="spacingAndGlyphs">Yes</text>
<text x="203.00" y="329.48" font-size="8.15" text-anchor="end" fill="#1e1e1e" stroke="#1e1e1e" stroke-width="0.22" textLength="8.84" lengthAdjust="spacingAndGlyphs">87</text>
<text x="415.80" y="329.48" font-size="8.15" text-anchor="start" fill="#1e1e1e" stroke="#1e1e1e" stroke-width="0.22" textLength="57.09" lengthAdjust="spacingAndGlyphs">0.57 (0.41, 0.78)</text>
<text x="508.00" y="329.48" font-size="8.15" text-anchor="end" fill="#1e1e1e" stroke="#1e1e1e" stroke-width="0.22" textLength="24.54" lengthAdjust="spacingAndGlyphs">&lt;0.001</text>
<line x1="214.37" y1="327.02" x2="286.60" y2="327.02" stroke="#c8102e" stroke-width="1.1"/>
<line x1="214.37" y1="325.82" x2="214.37" y2="328.22" stroke="#c8102e" stroke-width="0.8"/>
<line x1="286.60" y1="325.82" x2="286.60" y2="328.22" stroke="#c8102e" stroke-width="0.8"/>
<rect x="249.57" y="325.22" width="3.6" height="3.6" rx="0.9" fill="#c8102e"/>
<text x="13.00" y="341.03" font-size="8.1" text-anchor="start" fill="#161616" font-weight="bold" textLength="39.12" lengthAdjust="spacingAndGlyphs">Metastasis</text>
<text x="94.30" y="341.03" font-size="8.15" text-anchor="start" fill="#1e1e1e" stroke="#1e1e1e" stroke-width="0.22" textLength="41.98" lengthAdjust="spacingAndGlyphs">Metachrone</text>
<text x="203.00" y="341.03" font-size="8.15" text-anchor="end" fill="#1e1e1e" stroke="#1e1e1e" stroke-width="0.22" textLength="8.84" lengthAdjust="spacingAndGlyphs">60</text>
<text x="415.80" y="341.03" font-size="8.15" text-anchor="start" fill="#1e1e1e" stroke="#1e1e1e" stroke-width="0.22" textLength="36.68" lengthAdjust="spacingAndGlyphs">Reference</text>
<rect x="312.75" y="336.68" width="3.5" height="3.8" rx="0.9" fill="#c8102e"/>
<text x="94.30" y="352.58" font-size="8.15" text-anchor="start" fill="#1e1e1e" stroke="#1e1e1e" stroke-width="0.22" textLength="38.01" lengthAdjust="spacingAndGlyphs">Synchrone</text>
<text x="203.00" y="352.58" font-size="8.15" text-anchor="end" fill="#1e1e1e" stroke="#1e1e1e" stroke-width="0.22" textLength="13.26" lengthAdjust="spacingAndGlyphs">176</text>
<text x="415.80" y="352.58" font-size="8.15" text-anchor="start" fill="#1e1e1e" stroke="#1e1e1e" stroke-width="0.22" textLength="57.09" lengthAdjust="spacingAndGlyphs">1.53 (1.07, 2.19)</text>
<text x="508.00" y="352.58" font-size="8.15" text-anchor="end" fill="#1e1e1e" stroke="#1e1e1e" stroke-width="0.22" textLength="19.89" lengthAdjust="spacingAndGlyphs">0.021</text>
<line x1="322.10" y1="350.12" x2="402.53" y2="350.12" stroke="#c8102e" stroke-width="1.1"/>
<line x1="322.10" y1="348.93" x2="322.10" y2="351.32" stroke="#c8102e" stroke-width="0.8"/>
<line x1="402.53" y1="348.93" x2="402.53" y2="351.32" stroke="#c8102e" stroke-width="0.8"/>
<rect x="360.46" y="348.32" width="3.6" height="3.6" rx="0.9" fill="#c8102e"/>
<text x="13.00" y="364.12" font-size="8.1" text-anchor="start" fill="#161616" font-weight="bold" textLength="22.53" lengthAdjust="spacingAndGlyphs">ECOG</text>
<text x="96.50" y="364.12" font-size="8.15" text-anchor="start" fill="#1e1e1e" stroke="#1e1e1e" stroke-width="0.22" textLength="4.42" lengthAdjust="spacingAndGlyphs">0</text>
<text x="203.00" y="364.12" font-size="8.15" text-anchor="end" fill="#1e1e1e" stroke="#1e1e1e" stroke-width="0.22" textLength="13.26" lengthAdjust="spacingAndGlyphs">134</text>
<text x="415.80" y="364.12" font-size="8.15" text-anchor="start" fill="#1e1e1e" stroke="#1e1e1e" stroke-width="0.22" textLength="36.68" lengthAdjust="spacingAndGlyphs">Reference</text>
<rect x="312.75" y="359.77" width="3.5" height="3.8" rx="0.9" fill="#c8102e"/>
<text x="94.30" y="375.68" font-size="8.15" text-anchor="start" fill="#1e1e1e" stroke="#1e1e1e" stroke-width="0.22" textLength="20.33" lengthAdjust="spacingAndGlyphs">1 or 2</text>
<text x="203.00" y="375.68" font-size="8.15" text-anchor="end" fill="#1e1e1e" stroke="#1e1e1e" stroke-width="0.22" textLength="13.26" lengthAdjust="spacingAndGlyphs">102</text>
<text x="415.80" y="375.68" font-size="8.15" text-anchor="start" fill="#1e1e1e" stroke="#1e1e1e" stroke-width="0.22" textLength="57.09" lengthAdjust="spacingAndGlyphs">1.41 (1.05, 1.90)</text>
<text x="508.00" y="375.68" font-size="8.15" text-anchor="end" fill="#1e1e1e" stroke="#1e1e1e" stroke-width="0.22" textLength="19.89" lengthAdjust="spacingAndGlyphs">0.023</text>
<line x1="319.98" y1="373.22" x2="386.58" y2="373.22" stroke="#c8102e" stroke-width="1.1"/>
<line x1="319.98" y1="372.02" x2="319.98" y2="374.42" stroke="#c8102e" stroke-width="0.8"/>
<line x1="386.58" y1="372.02" x2="386.58" y2="374.42" stroke="#c8102e" stroke-width="0.8"/>
<rect x="351.29" y="371.42" width="3.6" height="3.6" rx="0.9" fill="#c8102e"/>
<text x="13.00" y="387.23" font-size="8.1" text-anchor="start" fill="#161616" font-weight="bold" textLength="14.45" lengthAdjust="spacingAndGlyphs">Age</text>
<text x="94.30" y="387.23" font-size="8.15" text-anchor="start" fill="#1e1e1e" stroke="#1e1e1e" stroke-width="0.22"></text>
<text x="203.00" y="387.23" font-size="8.15" text-anchor="end" fill="#1e1e1e" stroke="#1e1e1e" stroke-width="0.22" textLength="13.26" lengthAdjust="spacingAndGlyphs">236</text>
<text x="415.80" y="387.23" font-size="8.15" text-anchor="start" fill="#1e1e1e" stroke="#1e1e1e" stroke-width="0.22" textLength="57.09" lengthAdjust="spacingAndGlyphs">1.03 (1.01, 1.05)</text>
<text x="508.00" y="387.23" font-size="8.15" text-anchor="end" fill="#1e1e1e" stroke="#1e1e1e" stroke-width="0.22" textLength="19.89" lengthAdjust="spacingAndGlyphs">0.006</text>
<line x1="315.62" y1="384.77" x2="319.98" y2="384.77" stroke="#c8102e" stroke-width="1.1"/>
<line x1="315.62" y1="383.57" x2="315.62" y2="385.97" stroke="#c8102e" stroke-width="0.8"/>
<line x1="319.98" y1="383.57" x2="319.98" y2="385.97" stroke="#c8102e" stroke-width="0.8"/>
<rect x="316.02" y="382.97" width="3.6" height="3.6" rx="0.9" fill="#c8102e"/>
<line x1="236.66" y1="389.80" x2="236.66" y2="392.20" stroke="#222" stroke-width="1"/>
<text x="236.66" y="401.60" font-size="8.15" text-anchor="middle" fill="#333" stroke="#333" stroke-width="0.0" textLength="11.05" lengthAdjust="spacingAndGlyphs">0.5</text>
<line x1="314.50" y1="389.80" x2="314.50" y2="392.20" stroke="#222" stroke-width="1"/>
<text x="314.50" y="401.60" font-size="8.15" text-anchor="middle" fill="#333" stroke="#333" stroke-width="0.0" textLength="4.42" lengthAdjust="spacingAndGlyphs">1</text>
<line x1="360.03" y1="389.80" x2="360.03" y2="392.20" stroke="#222" stroke-width="1"/>
<text x="360.03" y="401.60" font-size="8.15" text-anchor="middle" fill="#333" stroke="#333" stroke-width="0.0" textLength="11.05" lengthAdjust="spacingAndGlyphs">1.5</text>
<line x1="392.34" y1="389.80" x2="392.34" y2="392.20" stroke="#222" stroke-width="1"/>
<text x="392.34" y="401.60" font-size="8.15" text-anchor="middle" fill="#333" stroke="#333" stroke-width="0.0" textLength="4.42" lengthAdjust="spacingAndGlyphs">2</text>
<text x="6.90" y="417.30" font-size="11" text-anchor="start" fill="#000" font-weight="bold">D</text>
<rect x="6.60" y="423.30" width="507.20" height="149.00" fill="#fff" stroke="#6d7178" stroke-width="1.3"/>
<rect x="6.60" y="423.30" width="507.20" height="10.10" fill="#17508a" stroke="#0f355e" stroke-width="1.2"/>
<rect x="8.00" y="434.60" width="504.40" height="10.93" fill="#b9cde0"/>
<rect x="8.00" y="446.13" width="504.40" height="10.93" fill="#e5ecf4"/>
<rect x="8.00" y="457.66" width="504.40" height="10.93" fill="#b9cde0"/>
<rect x="8.00" y="469.19" width="504.40" height="10.93" fill="#e5ecf4"/>
<rect x="8.00" y="480.72" width="504.40" height="10.93" fill="#b9cde0"/>
<rect x="8.00" y="492.25" width="504.40" height="10.93" fill="#e5ecf4"/>
<rect x="8.00" y="503.78" width="504.40" height="10.93" fill="#b9cde0"/>
<rect x="8.00" y="515.31" width="504.40" height="10.93" fill="#e5ecf4"/>
<rect x="8.00" y="526.84" width="504.40" height="10.93" fill="#b9cde0"/>
<rect x="8.00" y="538.37" width="504.40" height="10.93" fill="#e5ecf4"/>
<rect x="8.00" y="549.90" width="504.40" height="10.93" fill="#b9cde0"/>
<rect x="8.00" y="561.43" width="504.40" height="9.77" fill="#e5ecf4"/>
<rect x="228.40" y="423.95" width="1.20" height="147.70" fill="#eef2f7"/>
<rect x="408.40" y="423.95" width="1.20" height="147.70" fill="#eef2f7"/>
<text x="13.00" y="431.60" font-size="8.1" text-anchor="start" fill="#fff" textLength="29.7" lengthAdjust="spacingAndGlyphs" stroke="#fff" stroke-width="0.22">Variable</text>
<text x="215.80" y="431.60" font-size="8.1" text-anchor="middle" fill="#fff" stroke="#fff" stroke-width="0.22">N</text>
<text x="309.10" y="431.60" font-size="8.1" text-anchor="middle" fill="#fff" textLength="45.6" lengthAdjust="spacingAndGlyphs" stroke="#fff" stroke-width="0.22">Hazard ratio</text>
<text x="498.00" y="431.60" font-size="8.1" text-anchor="middle" fill="#fff" stroke="#fff" stroke-width="0.22">p</text>
<line x1="329.10" y1="433.90" x2="329.10" y2="572.30" stroke="#000" stroke-width="1" stroke-dasharray="2,2.2"/>
<text x="13.00" y="443.17" font-size="8.1" text-anchor="start" fill="#161616" font-weight="bold" textLength="11.05" lengthAdjust="spacingAndGlyphs">CH</text>
<text x="94.30" y="443.17" font-size="8.15" text-anchor="start" fill="#1e1e1e" stroke="#1e1e1e" stroke-width="0.22" textLength="43.75" lengthAdjust="spacingAndGlyphs">CH negative</text>
<text x="222.80" y="443.17" font-size="8.15" text-anchor="end" fill="#1e1e1e" stroke="#1e1e1e" stroke-width="0.22" textLength="13.26" lengthAdjust="spacingAndGlyphs">150</text>
<text x="415.80" y="443.17" font-size="8.15" text-anchor="start" fill="#1e1e1e" stroke="#1e1e1e" stroke-width="0.22" textLength="36.68" lengthAdjust="spacingAndGlyphs">Reference</text>
<rect x="327.35" y="438.37" width="3.5" height="3.8" rx="0.9" fill="#c8102e"/>
<text x="94.30" y="454.69" font-size="8.15" text-anchor="start" fill="#1e1e1e" stroke="#1e1e1e" stroke-width="0.22" textLength="108.24" lengthAdjust="spacingAndGlyphs">CH positive, DNMT3A wildtype</text>
<text x="222.80" y="454.69" font-size="8.15" text-anchor="end" fill="#1e1e1e" stroke="#1e1e1e" stroke-width="0.22" textLength="8.84" lengthAdjust="spacingAndGlyphs">42</text>
<text x="415.80" y="454.69" font-size="8.15" text-anchor="start" fill="#1e1e1e" stroke="#1e1e1e" stroke-width="0.22" textLength="57.09" lengthAdjust="spacingAndGlyphs">0.80 (0.53, 1.19)</text>
<text x="508.00" y="454.69" font-size="8.15" text-anchor="end" fill="#1e1e1e" stroke="#1e1e1e" stroke-width="0.22" textLength="19.89" lengthAdjust="spacingAndGlyphs">0.267</text>
<line x1="271.33" y1="451.79" x2="344.93" y2="451.79" stroke="#c8102e" stroke-width="1.1"/>
<line x1="271.33" y1="450.59" x2="271.33" y2="452.99" stroke="#c8102e" stroke-width="0.8"/>
<line x1="344.93" y1="450.59" x2="344.93" y2="452.99" stroke="#c8102e" stroke-width="0.8"/>
<rect x="306.99" y="449.99" width="3.6" height="3.6" rx="0.9" fill="#c8102e"/>
<text x="94.30" y="466.23" font-size="8.15" text-anchor="start" fill="#1e1e1e" stroke="#1e1e1e" stroke-width="0.22" textLength="46.82" lengthAdjust="spacingAndGlyphs">CH-DNMT3A</text>
<text x="222.80" y="466.23" font-size="8.15" text-anchor="end" fill="#1e1e1e" stroke="#1e1e1e" stroke-width="0.22" textLength="8.84" lengthAdjust="spacingAndGlyphs">44</text>
<text x="415.80" y="466.23" font-size="8.15" text-anchor="start" fill="#1e1e1e" stroke="#1e1e1e" stroke-width="0.22" textLength="57.09" lengthAdjust="spacingAndGlyphs">0.53 (0.36, 0.80)</text>
<text x="508.00" y="466.23" font-size="8.15" text-anchor="end" fill="#1e1e1e" stroke="#1e1e1e" stroke-width="0.22" textLength="19.89" lengthAdjust="spacingAndGlyphs">0.002</text>
<line x1="236.13" y1="463.32" x2="308.79" y2="463.32" stroke="#c8102e" stroke-width="1.1"/>
<line x1="236.13" y1="462.12" x2="236.13" y2="464.52" stroke="#c8102e" stroke-width="0.8"/>
<line x1="308.79" y1="462.12" x2="308.79" y2="464.52" stroke="#c8102e" stroke-width="0.8"/>
<rect x="269.53" y="461.52" width="3.6" height="3.6" rx="0.9" fill="#c8102e"/>
<text x="13.00" y="477.75" font-size="8.1" text-anchor="start" fill="#161616" font-weight="bold" textLength="36.56" lengthAdjust="spacingAndGlyphs">Treatment</text>
<text x="94.30" y="477.75" font-size="8.15" text-anchor="start" fill="#1e1e1e" stroke="#1e1e1e" stroke-width="0.22" textLength="86.38" lengthAdjust="spacingAndGlyphs">FOLFIRI + bevacizumab</text>
<text x="222.80" y="477.75" font-size="8.15" text-anchor="end" fill="#1e1e1e" stroke="#1e1e1e" stroke-width="0.22" textLength="13.26" lengthAdjust="spacingAndGlyphs">100</text>
<text x="415.80" y="477.75" font-size="8.15" text-anchor="start" fill="#1e1e1e" stroke="#1e1e1e" stroke-width="0.22" textLength="36.68" lengthAdjust="spacingAndGlyphs">Reference</text>
<rect x="327.35" y="472.95" width="3.5" height="3.8" rx="0.9" fill="#c8102e"/>
<text x="94.30" y="489.29" font-size="8.15" text-anchor="start" fill="#1e1e1e" stroke="#1e1e1e" stroke-width="0.22" textLength="75.77" lengthAdjust="spacingAndGlyphs">FOLFIRI + cetuximab</text>
<text x="222.80" y="489.29" font-size="8.15" text-anchor="end" fill="#1e1e1e" stroke="#1e1e1e" stroke-width="0.22" textLength="13.26" lengthAdjust="spacingAndGlyphs">136</text>
<text x="415.80" y="489.29" font-size="8.15" text-anchor="start" fill="#1e1e1e" stroke="#1e1e1e" stroke-width="0.22" textLength="57.09" lengthAdjust="spacingAndGlyphs">0.74 (0.56, 0.99)</text>
<text x="508.00" y="489.29" font-size="8.15" text-anchor="end" fill="#1e1e1e" stroke="#1e1e1e" stroke-width="0.22" textLength="19.89" lengthAdjust="spacingAndGlyphs">0.044</text>
<line x1="276.34" y1="486.38" x2="328.19" y2="486.38" stroke="#c8102e" stroke-width="1.1"/>
<line x1="276.34" y1="485.19" x2="276.34" y2="487.58" stroke="#c8102e" stroke-width="0.8"/>
<line x1="328.19" y1="485.19" x2="328.19" y2="487.58" stroke="#c8102e" stroke-width="0.8"/>
<rect x="299.90" y="484.58" width="3.6" height="3.6" rx="0.9" fill="#c8102e"/>
<text x="13.00" y="500.81" font-size="8.1" text-anchor="start" fill="#161616" font-weight="bold" textLength="75.68" lengthAdjust="spacingAndGlyphs">Liver-limited disease</text>
<text x="94.30" y="500.81" font-size="8.15" text-anchor="start" fill="#1e1e1e" stroke="#1e1e1e" stroke-width="0.22" textLength="10.16" lengthAdjust="spacingAndGlyphs">No</text>
<text x="222.80" y="500.81" font-size="8.15" text-anchor="end" fill="#1e1e1e" stroke="#1e1e1e" stroke-width="0.22" textLength="13.26" lengthAdjust="spacingAndGlyphs">149</text>
<text x="415.80" y="500.81" font-size="8.15" text-anchor="start" fill="#1e1e1e" stroke="#1e1e1e" stroke-width="0.22" textLength="36.68" lengthAdjust="spacingAndGlyphs">Reference</text>
<rect x="327.35" y="496.01" width="3.5" height="3.8" rx="0.9" fill="#c8102e"/>
<text x="94.30" y="512.35" font-size="8.15" text-anchor="start" fill="#1e1e1e" stroke="#1e1e1e" stroke-width="0.22" textLength="12.97" lengthAdjust="spacingAndGlyphs">Yes</text>
<text x="222.80" y="512.35" font-size="8.15" text-anchor="end" fill="#1e1e1e" stroke="#1e1e1e" stroke-width="0.22" textLength="8.84" lengthAdjust="spacingAndGlyphs">87</text>
<text x="415.80" y="512.35" font-size="8.15" text-anchor="start" fill="#1e1e1e" stroke="#1e1e1e" stroke-width="0.22" textLength="57.09" lengthAdjust="spacingAndGlyphs">0.57 (0.41, 0.78)</text>
<text x="508.00" y="512.35" font-size="8.15" text-anchor="end" fill="#1e1e1e" stroke="#1e1e1e" stroke-width="0.22" textLength="24.54" lengthAdjust="spacingAndGlyphs">&lt;0.001</text>
<line x1="247.96" y1="509.44" x2="306.49" y2="509.44" stroke="#c8102e" stroke-width="1.1"/>
<line x1="247.96" y1="508.25" x2="247.96" y2="510.64" stroke="#c8102e" stroke-width="0.8"/>
<line x1="306.49" y1="508.25" x2="306.49" y2="510.64" stroke="#c8102e" stroke-width="0.8"/>
<rect x="276.15" y="507.64" width="3.6" height="3.6" rx="0.9" fill="#c8102e"/>
<text x="13.00" y="523.88" font-size="8.1" text-anchor="start" fill="#161616" font-weight="bold" textLength="39.12" lengthAdjust="spacingAndGlyphs">Metastasis</text>
<text x="94.30" y="523.88" font-size="8.15" text-anchor="start" fill="#1e1e1e" stroke="#1e1e1e" stroke-width="0.22" textLength="41.98" lengthAdjust="spacingAndGlyphs">Metachrone</text>
<text x="222.80" y="523.88" font-size="8.15" text-anchor="end" fill="#1e1e1e" stroke="#1e1e1e" stroke-width="0.22" textLength="8.84" lengthAdjust="spacingAndGlyphs">60</text>
<text x="415.80" y="523.88" font-size="8.15" text-anchor="start" fill="#1e1e1e" stroke="#1e1e1e" stroke-width="0.22" textLength="36.68" lengthAdjust="spacingAndGlyphs">Reference</text>
<rect x="327.35" y="519.08" width="3.5" height="3.8" rx="0.9" fill="#c8102e"/>
<text x="94.30" y="535.40" font-size="8.15" text-anchor="start" fill="#1e1e1e" stroke="#1e1e1e" stroke-width="0.22" textLength="38.01" lengthAdjust="spacingAndGlyphs">Synchrone</text>
<text x="222.80" y="535.40" font-size="8.15" text-anchor="end" fill="#1e1e1e" stroke="#1e1e1e" stroke-width="0.22" textLength="13.26" lengthAdjust="spacingAndGlyphs">176</text>
<text x="415.80" y="535.40" font-size="8.15" text-anchor="start" fill="#1e1e1e" stroke="#1e1e1e" stroke-width="0.22" textLength="57.09" lengthAdjust="spacingAndGlyphs">1.56 (1.08, 2.24)</text>
<text x="508.00" y="535.40" font-size="8.15" text-anchor="end" fill="#1e1e1e" stroke="#1e1e1e" stroke-width="0.22" textLength="19.89" lengthAdjust="spacingAndGlyphs">0.017</text>
<line x1="336.10" y1="532.50" x2="402.49" y2="532.50" stroke="#c8102e" stroke-width="1.1"/>
<line x1="336.10" y1="531.30" x2="336.10" y2="533.71" stroke="#c8102e" stroke-width="0.8"/>
<line x1="402.49" y1="531.30" x2="402.49" y2="533.71" stroke="#c8102e" stroke-width="0.8"/>
<rect x="367.77" y="530.71" width="3.6" height="3.6" rx="0.9" fill="#c8102e"/>
<text x="13.00" y="546.93" font-size="8.1" text-anchor="start" fill="#161616" font-weight="bold" textLength="22.53" lengthAdjust="spacingAndGlyphs">ECOG</text>
<text x="94.30" y="546.93" font-size="8.15" text-anchor="start" fill="#1e1e1e" stroke="#1e1e1e" stroke-width="0.22" textLength="4.42" lengthAdjust="spacingAndGlyphs">0</text>
<text x="222.80" y="546.93" font-size="8.15" text-anchor="end" fill="#1e1e1e" stroke="#1e1e1e" stroke-width="0.22" textLength="13.26" lengthAdjust="spacingAndGlyphs">134</text>
<text x="415.80" y="546.93" font-size="8.15" text-anchor="start" fill="#1e1e1e" stroke="#1e1e1e" stroke-width="0.22" textLength="36.68" lengthAdjust="spacingAndGlyphs">Reference</text>
<rect x="327.35" y="542.13" width="3.5" height="3.8" rx="0.9" fill="#c8102e"/>
<text x="94.30" y="558.46" font-size="8.15" text-anchor="start" fill="#1e1e1e" stroke="#1e1e1e" stroke-width="0.22" textLength="20.33" lengthAdjust="spacingAndGlyphs">1 or 2</text>
<text x="222.80" y="558.46" font-size="8.15" text-anchor="end" fill="#1e1e1e" stroke="#1e1e1e" stroke-width="0.22" textLength="13.26" lengthAdjust="spacingAndGlyphs">102</text>
<text x="415.80" y="558.46" font-size="8.15" text-anchor="start" fill="#1e1e1e" stroke="#1e1e1e" stroke-width="0.22" textLength="57.09" lengthAdjust="spacingAndGlyphs">1.39 (1.03, 1.87)</text>
<text x="508.00" y="558.46" font-size="8.15" text-anchor="end" fill="#1e1e1e" stroke="#1e1e1e" stroke-width="0.22" textLength="19.89" lengthAdjust="spacingAndGlyphs">0.031</text>
<line x1="331.79" y1="555.56" x2="386.06" y2="555.56" stroke="#c8102e" stroke-width="1.1"/>
<line x1="331.79" y1="554.36" x2="331.79" y2="556.76" stroke="#c8102e" stroke-width="0.8"/>
<line x1="386.06" y1="554.36" x2="386.06" y2="556.76" stroke="#c8102e" stroke-width="0.8"/>
<rect x="357.27" y="553.76" width="3.6" height="3.6" rx="0.9" fill="#c8102e"/>
<text x="13.00" y="570.00" font-size="8.1" text-anchor="start" fill="#161616" font-weight="bold" textLength="14.45" lengthAdjust="spacingAndGlyphs">Age</text>
<text x="94.30" y="570.00" font-size="8.15" text-anchor="start" fill="#1e1e1e" stroke="#1e1e1e" stroke-width="0.22"></text>
<text x="222.80" y="570.00" font-size="8.15" text-anchor="end" fill="#1e1e1e" stroke="#1e1e1e" stroke-width="0.22" textLength="13.26" lengthAdjust="spacingAndGlyphs">236</text>
<text x="415.80" y="570.00" font-size="8.15" text-anchor="start" fill="#1e1e1e" stroke="#1e1e1e" stroke-width="0.22" textLength="57.09" lengthAdjust="spacingAndGlyphs">1.03 (1.01, 1.05)</text>
<text x="508.00" y="570.00" font-size="8.15" text-anchor="end" fill="#1e1e1e" stroke="#1e1e1e" stroke-width="0.22" textLength="19.89" lengthAdjust="spacingAndGlyphs">0.004</text>
<line x1="330.01" y1="567.10" x2="333.54" y2="567.10" stroke="#c8102e" stroke-width="1.1"/>
<line x1="330.01" y1="565.89" x2="330.01" y2="568.30" stroke="#c8102e" stroke-width="0.8"/>
<line x1="333.54" y1="565.89" x2="333.54" y2="568.30" stroke="#c8102e" stroke-width="0.8"/>
<rect x="329.99" y="565.30" width="3.6" height="3.6" rx="0.9" fill="#c8102e"/>
<line x1="266.02" y1="572.30" x2="266.02" y2="574.70" stroke="#222" stroke-width="1"/>
<text x="266.02" y="584.10" font-size="8.15" text-anchor="middle" fill="#333" stroke="#333" stroke-width="0.0" textLength="11.05" lengthAdjust="spacingAndGlyphs">0.5</text>
<line x1="329.10" y1="572.30" x2="329.10" y2="574.70" stroke="#222" stroke-width="1"/>
<text x="329.10" y="584.10" font-size="8.15" text-anchor="middle" fill="#333" stroke="#333" stroke-width="0.0" textLength="4.42" lengthAdjust="spacingAndGlyphs">1</text>
<line x1="366.00" y1="572.30" x2="366.00" y2="574.70" stroke="#222" stroke-width="1"/>
<text x="366.00" y="584.10" font-size="8.15" text-anchor="middle" fill="#333" stroke="#333" stroke-width="0.0" textLength="11.05" lengthAdjust="spacingAndGlyphs">1.5</text>
<line x1="392.18" y1="572.30" x2="392.18" y2="574.70" stroke="#222" stroke-width="1"/>
<text x="392.18" y="584.10" font-size="8.15" text-anchor="middle" fill="#333" stroke="#333" stroke-width="0.0" textLength="4.42" lengthAdjust="spacingAndGlyphs">2</text></svg>
<div class="bd"></div>
</div></body></html>
